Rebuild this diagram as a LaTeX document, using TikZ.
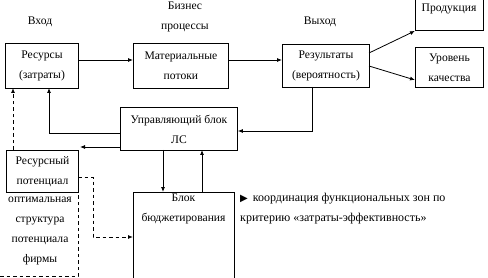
\documentclass[tikz,border=0pt]{standalone}
\usepackage{fontspec}
\setmainfont{Liberation Serif}
\newfontfamily\symfont{DejaVu Sans}
\usetikzlibrary{arrows.meta}
\begin{document}
\begin{tikzpicture}[x=1pt,y=-1pt,
  box/.style={draw, line width=0.9pt, inner sep=0pt, anchor=north west, align=center,
    font=\fontsize{11.6}{20}\selectfont},
  txt/.style={inner sep=0pt, align=center, font=\fontsize{11.6}{20}\selectfont},
  conn/.style={line width=0.8pt, -{Latex[length=5pt,width=4pt]}},
  dconn/.style={line width=0.9pt, dash pattern=on 3.5pt off 3pt, -{Latex[length=5pt,width=4pt]}},
  dline/.style={line width=0.9pt, dash pattern=on 3.5pt off 3pt}]
\useasboundingbox (0,0) rectangle (488,278);

% headings
\node[txt] (hin) at (40,22) {Вход};
\node[txt] (hbp) at (185,17) {Бизнес\\процессы};
\node[txt] (hout) at (320,22) {Выход};

% top row boxes
\node[box, minimum width=73pt, minimum height=45pt] (res) at (5,43) {Ресурсы\\(затраты)};
\node[box, minimum width=95pt, minimum height=45pt] (mat) at (133,43) {Материальные\\потоки};
\node[box, minimum width=87pt, minimum height=43pt] (rez) at (282,44) {Результаты\\(вероятность)};
\node[box, minimum width=68pt, minimum height=31pt] (prod) at (415,-1) {};
\node[txt] (prodt) at (449,9) {Продукция};
\node[box, minimum width=68pt, minimum height=40pt] (kach) at (415,47) {Уровень\\качества};

% control block
\node[box, minimum width=117pt, minimum height=43pt] (upr) at (120,107) {Управляющий блок\\ЛС};

% resource potential
\node[box, minimum width=72pt, minimum height=42pt] (pot) at (6,150) {Ресурсный\\потенциал};
\node[txt] (opt) at (40,231) {оптимальная\\структура\\потенциала\\фирмы};

% budgeting block
\node[box, minimum width=101pt, minimum height=90pt] (bud) at (133,192) {};
\node[txt] (budt) at (183.5,209) {Блок\\бюджетирования};

% note
\node[txt, anchor=west, align=left, font=\fontsize{12}{20}\selectfont] (note) at (240,209) {{\symfont\fontsize{10}{10}\selectfont ▶}\, координация функциональных зон по\\критерию «затраты-эффективность»};

% connectors top row
\draw[conn] (res.east |- 0,60) -- (mat.west |- 0,60);
\draw[conn] (mat.east |- 0,60) -- (rez.west |- 0,60);
\draw[conn] (369,53) -- (prod.south west);
\draw[conn] (369,66) -- (kach.west |- 0,80);

% results -> control
\draw[conn] (312,87) -- (312,131) -- (upr.east |- 0,131);
% control -> resources
\draw[conn] (upr.west |- 0,133) -- (49,133) -- (49,88);
% control -> left arrow
\coordinate (la) at (80,147);
\draw[conn] (upr.west |- 0,147) -- (la);
% control <-> budgeting
\draw[conn] (163,150) -- (163,192);
\draw[conn] (202,192) -- (202,150);

% dashed
\draw[dconn] (13,150) -- (13,88);
\draw[dconn] (78,177) -- (93,177) -- (93,237) -- (bud.west |- 0,237);
\draw[dline] (0,276.5) -- (78,276.5) -- (78,192);
\end{tikzpicture}
\end{document}
